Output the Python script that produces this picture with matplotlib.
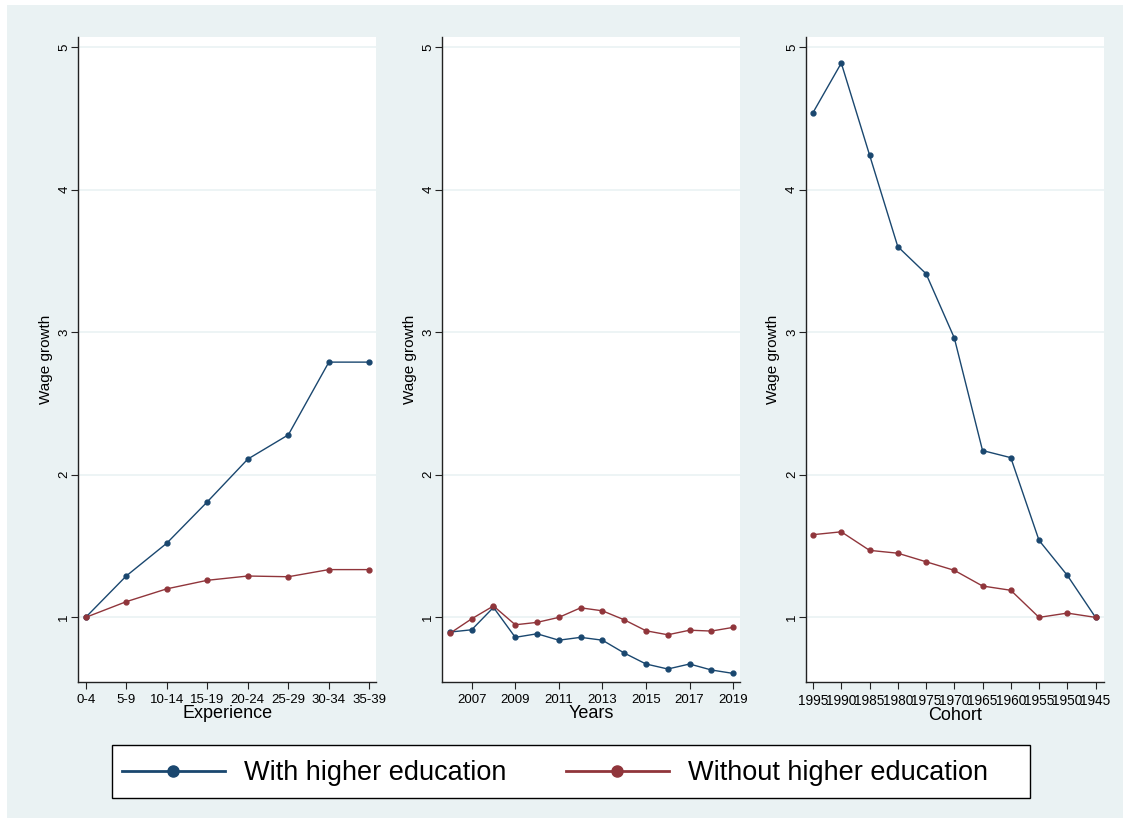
import numpy as np
import matplotlib.pyplot as plt
from matplotlib.patches import Rectangle
from matplotlib.lines import Line2D

plt.rcParams['font.family'] = ['Liberation Sans', 'DejaVu Sans']

experience = ["0-4", "5-9", "10-14", "15-19", "20-24", "25-29", "30-34", "35-39"]
exp_higher = [1.00, 1.29, 1.52, 1.81, 2.11, 2.28, 2.79, 2.79]
exp_nohigher = [1.00, 1.11, 1.20, 1.26, 1.29, 1.285, 1.335, 1.335]

years = [2006, 2007, 2008, 2009, 2010, 2011, 2012, 2013, 2014, 2015, 2016, 2017, 2018, 2019]
yr_higher = [0.897, 0.913, 1.07, 0.86, 0.885, 0.84, 0.86, 0.84, 0.75, 0.673, 0.638, 0.673, 0.631, 0.607]
yr_nohigher = [0.888, 0.99, 1.08, 0.948, 0.965, 1.00, 1.067, 1.046, 0.983, 0.906, 0.878, 0.91, 0.904, 0.93]
year_ticks = [2007, 2009, 2011, 2013, 2015, 2017, 2019]

cohorts = ["1995", "1990", "1985", "1980", "1975", "1970", "1965", "1960", "1955", "1950", "1945"]
coh_higher = [4.54, 4.887, 4.243, 3.60, 3.41, 2.96, 2.17, 2.12, 1.54, 1.295, 1.00]
coh_nohigher = [1.58, 1.60, 1.47, 1.45, 1.39, 1.33, 1.22, 1.19, 1.00, 1.03, 1.00]

blue = "#1a476f"
red = "#90353b"
bg = "#eaf2f3"

fig = plt.figure(figsize=(11.3, 8.22), dpi=100, facecolor="white")
fig.patches.append(Rectangle((0.006, 0.005), 0.988, 0.989, transform=fig.transFigure,
                             facecolor=bg, edgecolor="none", zorder=-10))

lefts = [0.069, 0.391, 0.713]
axes = [fig.add_axes([l, 0.170, 0.264, 0.785]) for l in lefts]


def style(ax, xlabel):
    ax.set_facecolor("white")
    ax.set_ylim(0.545, 5.07)
    ax.set_yticks([1, 2, 3, 4, 5])
    ax.set_yticklabels(["1", "2", "3", "4", "5"], rotation=90, va="center", fontsize=9.5)
    ax.grid(axis="y", color=bg, linewidth=1.2)
    ax.set_axisbelow(True)
    for s in ["top", "right"]:
        ax.spines[s].set_visible(False)
    for s in ["left", "bottom"]:
        ax.spines[s].set_color("#222222")
        ax.spines[s].set_linewidth(1.0)
    ax.tick_params(axis="both", length=5, color="#222222", labelsize=9.5)
    ax.tick_params(axis="y", pad=0.5)
    ax.set_xlabel(xlabel, fontsize=13, labelpad=-1)
    ax.set_ylabel("Wage growth", fontsize=11, labelpad=4)


def draw(ax, x, y1, y2):
    ax.plot(x, y1, color=blue, lw=1.0, marker="o", ms=3.5)
    ax.plot(x, y2, color=red, lw=1.0, marker="o", ms=3.5)


# experience panel
ax = axes[0]
xe = np.arange(len(experience))
draw(ax, xe, exp_higher, exp_nohigher)
ax.set_xticks(xe)
ax.set_xticklabels(experience)
ax.set_xlim(-0.19, 7.17)
style(ax, "Experience")

# years panel
ax = axes[1]
draw(ax, years, yr_higher, yr_nohigher)
ax.set_xticks(year_ticks)
ax.set_xlim(2005.63, 2019.32)
style(ax, "Years")

# cohort panel
ax = axes[2]
xc = np.arange(len(cohorts))
draw(ax, xc, coh_higher, coh_nohigher)
ax.set_xticks(xc)
ax.set_xticklabels(cohorts)
ax.set_xlim(-0.26, 10.3)
style(ax, "Cohort")
ax.tick_params(axis="x", labelsize=9.8)

# legend box drawn by hand so its size matches
fig.patches.append(Rectangle((112 / 1130, 1 - 798 / 822), 918 / 1130, 53 / 822,
                             transform=fig.transFigure, facecolor="white",
                             edgecolor="black", linewidth=1.0, zorder=1))
handles = [Line2D([], [], color=blue, lw=2, marker="o", ms=8),
           Line2D([], [], color=red, lw=2, marker="o", ms=8)]
leg = fig.legend(handles, ["With higher education", "Without higher education"],
                 loc="center left", bbox_to_anchor=(122 / 1130, 1 - 773 / 822), ncol=2,
                 fontsize=19.5, frameon=False, handlelength=3.8, borderpad=0,
                 borderaxespad=0, handletextpad=0.7, columnspacing=2.2)
leg.set_zorder(2)

fig.savefig("out.png", dpi=100, facecolor=fig.get_facecolor())
